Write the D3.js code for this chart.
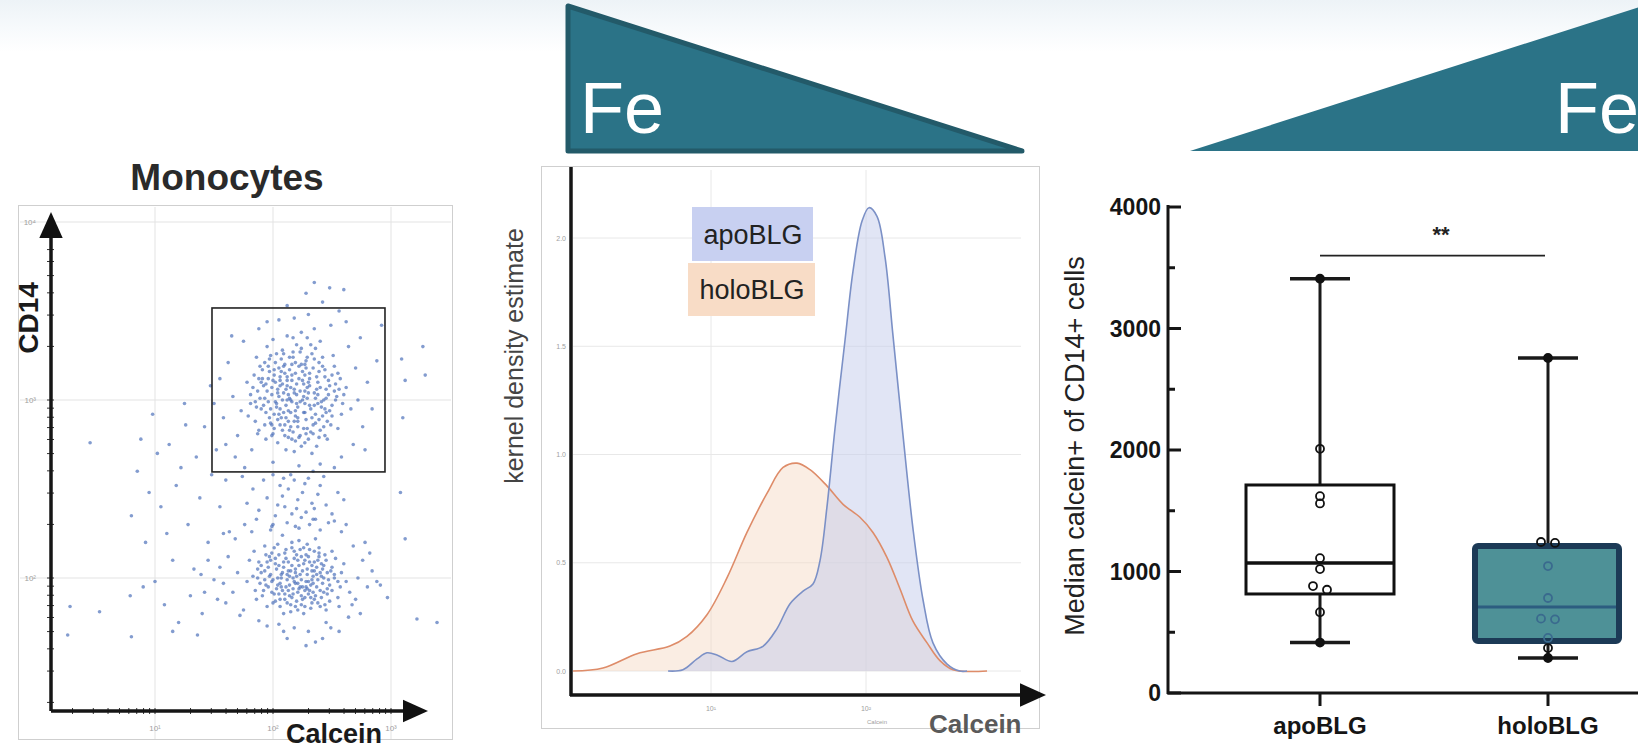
<!DOCTYPE html>
<html>
<head>
<meta charset="utf-8">
<script src="https://cdn.jsdelivr.net/npm/d3@7"></script>
<style>
  body { margin: 0; background: #fff; font-family: "Liberation Sans", Arial, sans-serif; }
</style>
</head>
<body>
<div id="fig"></div>
<script>
// ---------- data ----------
// flow cytometry events, [log10 Calcein, log10 CD14]
const upperCluster = [
  [2.14,3.01],[2.31,3.12],[1.98,2.87],[2.22,2.79],[2.05,3.18],[2.41,2.96],[1.87,3.05],[2.17,3.27],[2.29,2.84],[2.02,2.99],
  [2.48,3.08],[1.93,3.21],[2.11,2.72],[2.36,3.29],[2.08,3.09],[2.26,2.93],[1.79,2.91],[2.54,3.02],[2.19,3.15],[2.00,2.81],
  [2.33,2.70],[2.12,3.36],[1.90,2.95],[2.44,3.17],[2.23,3.05],[1.96,3.12],[2.39,2.89],[2.07,2.90],[2.28,3.22],[2.15,2.85],
  [1.84,3.14],[2.58,2.92],[2.20,2.98],[2.03,3.26],[2.46,2.78],[1.99,3.03],[2.35,3.04],[2.10,3.20],[2.27,2.76],[1.88,2.83],
  [2.52,3.19],[2.16,3.11],[2.04,2.76],[2.38,2.98],[1.95,3.30],[2.24,3.38],[2.13,2.94],[2.43,2.85],[1.81,2.98],[2.30,3.10],
  [2.09,3.04],[2.62,3.07],[2.21,2.88],[1.97,2.90],[2.34,3.18],[2.06,3.13],[2.50,2.97],[2.18,2.71],[1.92,3.08],[2.40,3.33],
  [2.25,3.00],[2.01,3.17],[2.32,2.82],[1.86,3.24],[2.57,3.12],[2.14,3.24],[2.45,3.01],[1.94,2.78],[2.29,3.07],[2.08,2.83],
  [2.66,2.95],[2.20,3.31],[1.78,3.10],[2.37,2.74],[2.11,2.97],[2.51,3.25],[1.99,2.86],[2.27,3.14],[2.04,3.06],[2.42,2.91],
  [1.73,2.94],[2.19,2.91],[2.35,3.40],[1.91,3.17],[2.55,2.84],[2.12,3.08],[2.23,2.80],[2.00,3.34],[2.47,3.11],[1.85,2.88],
  [2.31,2.97],[2.06,2.95],[2.60,3.03],[2.16,2.78],[1.89,3.01],[2.39,3.21],[2.26,3.09],[1.97,3.23],[2.44,2.80],[2.10,3.15],
  [2.13,3.03],[2.21,2.96],[2.02,3.10],[2.37,3.06],[1.94,2.93],[2.28,2.89],[2.09,3.19],[2.44,3.13],[2.17,2.82],[1.99,3.07],
  [2.33,3.26],[2.06,2.86],[2.25,3.16],[2.48,2.94],[1.91,3.12],[2.15,3.07],[2.40,2.83],[2.03,2.98],[2.29,3.01],[1.86,2.96],
  [2.19,3.21],[2.52,3.05],[2.11,2.90],[2.36,2.92],[1.97,3.16],[2.24,2.74],[2.08,3.28],[2.42,3.24],[2.16,2.99],[1.93,2.86],
  [2.31,3.15],[2.05,3.02],[2.46,2.88],[2.20,3.09],[1.89,3.19],[2.27,2.98],[2.12,3.13],[2.38,3.10],[2.01,2.92],[2.23,3.27],
  [2.55,3.15],[1.96,2.99],[2.34,2.86],[2.10,2.80],[2.29,3.35],[2.18,3.04],[2.43,3.00],[1.83,3.07],[2.07,3.23],[2.26,2.84],
  [2.50,2.91],[2.14,3.17],[1.95,3.05],[2.39,3.16],[2.22,3.12],[2.04,2.89],[2.32,2.95],[2.17,3.35],[2.59,2.98],[1.87,2.81],
  [2.12,3.00],[2.35,3.23],[1.98,3.25],[2.27,3.05],[2.45,3.06],[2.09,2.93],[2.21,2.85],[2.01,3.14],[2.30,2.78],[2.16,3.14],
  [1.92,2.97],[2.41,2.99],[2.24,3.20],[2.06,3.11],[2.53,3.09],[2.19,2.94],[1.81,3.03],[2.36,3.01],[2.13,2.88],[2.28,3.18],
  [2.18,3.06],[2.26,3.02],[2.04,3.04],[2.35,2.97],[1.98,2.95],[2.22,3.19],[2.10,2.86],[2.31,3.08],[2.15,2.93],[2.40,3.07],
  [1.93,3.01],[2.28,2.81],[2.07,3.16],[2.47,3.03],[2.12,3.11],[2.33,2.90],[2.01,2.84],[2.24,3.29],[2.19,2.77],[2.44,2.95],
  [1.90,3.10],[2.37,3.13],[2.05,2.92],[2.29,3.24],[2.14,2.83],[2.53,3.00],[1.96,3.19],[2.21,2.90],[2.39,2.79],[2.08,3.00],
  [2.25,3.11],[1.85,2.99],[2.32,3.31],[2.16,3.20],[2.49,2.86],[2.02,3.21],[2.27,2.93],[2.11,3.06],[2.42,3.19],[1.99,2.80],
  [2.20,3.03],[2.36,2.87],[2.06,3.08],[2.56,3.06],[2.13,2.79],[1.88,3.12],[2.30,3.04],[2.17,3.24],[2.45,2.93],[2.03,2.96],
  [2.23,2.99],[2.09,3.26],[2.38,3.03],[1.94,3.09],[2.27,3.20],[2.15,3.00],[2.50,3.14],[2.00,3.11],[2.34,2.81],[2.18,2.88],
  [1.66,3.02],[1.70,2.80],[2.72,3.00],[2.70,3.18],[1.62,3.21],[2.76,2.85],[1.58,2.90],[2.68,2.75],[2.18,3.46],[2.05,3.45],
  [2.30,3.48],[1.75,3.33],[2.64,3.30],[1.68,2.68],[2.80,3.10],[2.49,3.42],[1.95,3.44],[2.58,2.68],[1.55,3.12],[2.22,2.63],
  [2.00,2.65],[2.40,2.64],[1.82,2.72],[2.84,2.95],[1.50,2.98],[2.12,3.53],[2.42,3.55],[2.28,3.60],[2.56,3.50],[1.88,3.40],
  [2.74,3.35],[1.60,2.75],[2.78,2.72],[1.65,3.36],[2.62,3.44],[1.47,3.08],[2.88,3.22],[1.76,2.62],[2.52,2.62],[2.34,2.60]
];
const lowerCluster = [
  [2.17,2.00],[2.31,1.93],[2.02,2.08],[2.24,2.12],[1.94,1.96],[2.40,2.03],[2.10,1.88],[2.28,1.98],[1.87,2.05],[2.46,1.91],
  [2.06,1.97],[2.35,2.09],[2.19,1.84],[1.99,2.14],[2.52,2.00],[2.13,2.04],[2.38,1.86],[1.91,1.90],[2.26,2.17],[2.08,1.93],
  [2.43,2.07],[1.83,2.01],[2.21,1.92],[2.33,1.99],[2.04,2.19],[2.57,1.95],[2.15,1.81],[1.96,2.06],[2.29,2.05],[2.11,2.11],
  [2.48,1.87],[1.89,1.97],[2.37,1.95],[2.00,1.86],[2.23,2.02],[2.60,2.08],[2.07,2.02],[2.32,1.83],[1.80,2.10],[2.18,2.15],
  [2.44,2.13],[2.03,1.94],[2.27,1.89],[1.93,2.18],[2.55,1.89],[2.14,1.96],[2.39,2.17],[1.85,1.93],[2.22,2.07],[2.09,1.80],
  [2.49,2.04],[1.97,2.01],[2.34,1.92],[2.16,2.20],[2.62,1.98],[2.01,1.91],[2.30,2.12],[1.88,2.09],[2.20,1.87],[2.42,1.97],
  [2.05,2.13],[2.25,1.95],[1.78,1.98],[2.36,2.22],[2.12,1.99],[2.53,2.11],[1.95,1.84],[2.29,1.94],[2.08,2.24],[2.45,1.82],
  [2.19,2.05],[1.90,2.03],[2.33,2.04],[2.00,1.99],[2.58,2.03],[2.24,1.85],[2.11,2.16],[2.40,1.93],[1.84,2.15],[2.27,2.10],
  [2.14,1.90],[2.47,1.99],[1.98,2.10],[2.35,1.88],[2.06,1.88],[2.31,2.16],[2.21,1.97],[1.92,1.93],[2.50,2.15],[2.17,1.94],
  [2.41,2.01],[2.03,2.05],[2.26,1.80],[2.65,1.92],[1.86,1.88],[2.13,2.09],[2.38,2.10],[2.22,2.21],[1.96,1.95],[2.56,1.84],
  [2.20,2.01],[2.32,1.96],[2.09,2.06],[2.43,2.00],[2.15,1.85],[2.28,2.13],[1.99,1.98],[2.37,2.06],[2.24,1.90],[2.12,2.02],
  [2.46,1.94],[2.02,1.87],[2.34,2.01],[2.18,2.11],[1.93,2.04],[2.41,1.89],[2.25,2.04],[2.07,1.95],[2.30,1.91],[2.16,2.07],
  [2.50,2.06],[1.97,2.12],[2.27,1.93],[2.10,1.91],[2.39,2.14],[2.21,1.82],[2.04,2.00],[2.33,2.07],[2.19,1.97],[2.44,1.85],
  [2.19,2.03],[2.30,1.98],[2.07,2.00],[2.36,1.90],[2.13,1.93],[2.26,2.08],[1.98,2.02],[2.42,2.05],[2.23,1.95],[2.10,2.14],
  [2.33,1.86],[2.04,1.96],[2.48,1.96],[2.16,1.89],[2.29,2.02],[1.93,1.99],[2.39,2.12],[2.21,2.10],[2.06,1.84],[2.45,2.10],
  [2.14,2.01],[2.34,1.97],[1.95,2.09],[2.27,1.84],[2.52,2.02],[2.09,2.09],[2.24,1.99],[2.01,2.17],[2.37,2.02],[2.17,1.91],
  [2.43,1.92],[1.90,2.07],[2.31,2.09],[2.11,1.95],[2.55,1.98],[2.20,2.13],[2.05,1.91],[2.28,1.95],[2.40,1.84],[2.15,2.04],
  [2.35,2.04],[1.99,1.92],[2.23,2.16],[2.46,2.03],[2.08,2.03],[2.32,1.89],[2.18,1.98],[1.87,2.00],[2.41,2.08],[2.25,1.88],
  [2.12,1.86],[2.38,1.99],[2.02,2.11],[2.29,2.19],[2.50,1.93],[2.16,2.17],[2.22,1.94],[1.94,2.13],[2.35,2.15],[2.05,2.07],
  [1.70,2.03],[1.66,1.92],[2.72,2.00],[2.70,1.88],[1.62,2.12],[2.76,2.10],[1.58,1.97],[2.68,2.18],[2.18,1.72],[2.05,1.74],
  [2.30,1.70],[1.75,1.82],[2.64,1.78],[1.68,2.22],[2.80,1.95],[2.49,1.72],[1.95,1.73],[2.58,2.26],[1.55,2.06],[2.22,2.28],
  [2.00,2.30],[2.40,2.27],[1.82,2.26],[2.84,2.04],[1.50,1.99],[2.12,1.66],[2.42,1.66],[2.28,1.62],[2.56,1.70],[1.88,1.76],
  [2.74,1.80],[1.60,1.86],[2.78,2.20],[1.45,2.10],[2.62,2.30],[1.42,1.92],[2.88,1.98],[1.76,2.30],[2.52,2.32],[2.34,2.33],
  [1.72,1.79],[2.67,1.85],[1.63,2.26],[1.98,2.27],[2.09,1.70],[2.45,1.75],[1.53,1.88],[2.82,2.14],[1.39,2.02],[2.36,1.64]
];
const bridgeEvents = [
  [2.10,2.40],[2.25,2.48],[2.02,2.35],[2.33,2.42],[2.18,2.55],[1.95,2.45],[2.40,2.52],[2.12,2.31],[2.28,2.37],[2.06,2.52],
  [2.36,2.33],[1.88,2.38],[2.21,2.44],[2.45,2.41],[2.15,2.58],[1.99,2.29],[2.30,2.56],[2.08,2.46],[2.50,2.36],[1.83,2.50],
  [2.24,2.34],[2.38,2.47],[2.04,2.41],[2.16,2.36],[2.55,2.48],[1.92,2.55],[2.31,2.30],[2.13,2.50],[2.43,2.57],[1.78,2.42],
  [2.27,2.53],[2.00,2.58],[2.20,2.39],[2.47,2.31],[1.86,2.33],[2.35,2.39],[2.09,2.56],[2.60,2.44],[1.74,2.57],[2.19,2.29]
];
const sparseEvents = [
  [0.98,2.92],[1.12,2.75],[0.85,2.60],[1.25,2.98],[1.05,2.40],[1.35,2.68],[0.92,2.20],[1.18,2.52],[1.42,2.85],[1.00,1.98],
  [1.28,2.30],[0.88,2.78],[1.15,2.10],[1.38,2.45],[1.08,1.85],[1.22,2.62],[0.95,2.48],[1.45,2.20],[1.30,1.90],[1.02,2.70],
  [1.48,2.58],[1.10,2.25],[0.80,2.35],[1.33,2.05],[1.20,1.75],[1.40,1.80],[1.55,2.40],[1.60,2.55],[1.52,2.72],[1.26,2.86],
  [0.45,2.76],[0.28,1.84],[0.53,1.81],[0.26,1.68],[0.80,1.67],[0.79,1.90],[1.36,1.68],[1.15,1.70],[0.90,1.95],[1.58,2.25],
  [3.09,3.23],[3.27,3.30],[3.29,3.14],[3.12,3.11],[3.10,2.90],[3.08,2.48],[3.12,2.22],[2.97,1.89],[3.22,1.77],[3.39,1.75],
  [2.91,1.96],[2.92,3.42],[2.60,3.62],[2.35,3.66],[2.48,3.63]
];
const gateCalcein = [1.483, 2.949];   // log10
const gateCD14 = [2.596, 3.517];      // log10
const scatterXTicks = [10, 100, 1000];
const scatterYTicks = [100, 1000, 10000];

// kernel density estimate, x = log10 Calcein
const apoX = [0.723,0.819,0.910,0.974,1.045,1.135,1.232,1.335,1.426,1.510,1.594,1.658,1.703,1.748,1.800,1.865,
  1.916,1.974,2.019,2.071,2.123,2.174,2.239,2.303,2.368,2.432,2.523,2.606,2.652];
const apoDensity = [0,0.006,0.056,0.084,0.072,0.044,0.089,0.114,0.196,0.311,0.369,0.402,0.509,0.757,1.12,1.53,
  1.846,2.077,2.14,2.10,1.91,1.55,1.087,0.658,0.328,0.13,0.032,0,0];
const holoX = [0.110,0.303,0.523,0.735,0.845,0.974,1.103,1.232,1.361,1.465,1.555,1.639,1.748,1.852,1.961,2.045,
  2.135,2.219,2.303,2.394,2.477,2.561,2.781];
const holoDensity = [0,0.014,0.08,0.115,0.16,0.26,0.43,0.64,0.82,0.94,0.96,0.93,0.855,0.77,0.71,0.64,
  0.525,0.38,0.23,0.13,0.048,0.006,0];
const kdeYTicks = [0, 0.5, 1.0, 1.5, 2.0];
const kdeXTicks = [10, 100];

// box plot: median calcein+ of CD14+ cells
const groups = ["apoBLG", "holoBLG"];
const boxStats = {
  apoBLG:  { min: 415, q1: 815, median: 1070, q3: 1712, max: 3410 },
  holoBLG: { min: 288, q1: 428, median: 708,  q3: 1210, max: 2757 }
};
const apoPoints = [3410, 2010, 1620, 1560, 1110, 1020, 880, 850, 665, 415];
const holoPoints = [2757, 1243, 1235, 1045, 782, 612, 606, 453, 370, 288];
const boxYTicks = [0, 1000, 2000, 3000, 4000];
const sigLevel = 3600;

// ---------- page ----------
const W = 1638, H = 749;
const svg = d3.select("#fig").append("svg").attr("width", W).attr("height", H);
const defs = svg.append("defs");

const band = defs.append("linearGradient").attr("id", "band")
  .attr("x1", 0).attr("y1", 0).attr("x2", 0).attr("y2", 1);
band.append("stop").attr("offset", 0).attr("stop-color", "#edf3f7");
band.append("stop").attr("offset", 0.55).attr("stop-color", "#f7fafc");
band.append("stop").attr("offset", 1).attr("stop-color", "#ffffff");
svg.append("rect").attr("width", W).attr("height", 52).attr("fill", "url(#band)");

// iron gradient triangles
svg.append("path").attr("d", "M568,6 L568,151 L1022,151 Z")
  .attr("fill", "#2b7387").attr("stroke", "#235a69").attr("stroke-width", 5)
  .attr("stroke-linejoin", "round");
svg.append("path").attr("d", "M1190,151 L1652,3 L1652,151 Z").attr("fill", "#2b7387");
svg.append("text").attr("x", 580).attr("y", 133).attr("font-size", 72)
  .attr("fill", "#fff").text("Fe");
svg.append("text").attr("x", 1555).attr("y", 133).attr("font-size", 72)
  .attr("fill", "#fff").text("Fe");

// arrow helper
function arrowAxis(g, x1, y1, x2, y2, head) {
  const dx = x2 - x1, dy = y2 - y1, len = Math.hypot(dx, dy);
  const ux = dx / len, uy = dy / len;
  const bx = x2 - ux * head, by = y2 - uy * head;
  g.append("line").attr("x1", x1).attr("y1", y1).attr("x2", bx + ux * 2).attr("y2", by + uy * 2)
    .attr("stroke", "#151515").attr("stroke-width", 3.5);
  g.append("path")
    .attr("d", `M${x2},${y2} L${bx - uy * head * 0.45},${by + ux * head * 0.45} L${bx + uy * head * 0.45},${by - ux * head * 0.45} Z`)
    .attr("fill", "#111");
}

// ---------- panel 1: scatter ----------
const sc = svg.append("g");
sc.append("rect").attr("x", 18.5).attr("y", 205.5).attr("width", 434).attr("height", 534)
  .attr("fill", "#fff").attr("stroke", "#cfcfcf");
sc.append("text").attr("x", 227).attr("y", 190).attr("text-anchor", "middle")
  .attr("font-size", 37).attr("font-weight", "bold").attr("fill", "#2a2a2a").text("Monocytes");

const sx = d3.scaleLog().domain([10, 1000]).range([155, 391]);
const sy = d3.scaleLog().domain([100, 10000]).range([578, 222]);
const sup = { 1: "¹", 2: "²", 3: "³", 4: "⁴" };

sc.selectAll(".vg").data(scatterXTicks).enter().append("line")
  .attr("x1", d => sx(d)).attr("x2", d => sx(d)).attr("y1", 207).attr("y2", 739)
  .attr("stroke", "#e3e3e3");
sc.selectAll(".hg").data(scatterYTicks).enter().append("line")
  .attr("y1", d => sy(d)).attr("y2", d => sy(d)).attr("x1", 20).attr("x2", 451)
  .attr("stroke", "#e3e3e3");
sc.selectAll(".xt").data(scatterXTicks).enter().append("text")
  .attr("x", d => sx(d)).attr("y", 731).attr("text-anchor", "middle")
  .attr("font-size", 8).attr("fill", "#a0a0a0").text(d => "10" + sup[Math.round(Math.log10(d))]);
sc.selectAll(".yt").data(scatterYTicks).enter().append("text")
  .attr("x", 36).attr("y", d => sy(d) + 3).attr("text-anchor", "end")
  .attr("font-size", 8).attr("fill", "#a0a0a0").text(d => "10" + sup[Math.round(Math.log10(d))]);

const events = upperCluster.concat(lowerCluster, bridgeEvents, sparseEvents);
sc.selectAll(".ev").data(events).enter().append("circle")
  .attr("cx", d => sx(Math.pow(10, d[0]))).attr("cy", d => sy(Math.pow(10, d[1])))
  .attr("r", 1.8).attr("fill", "#4f72bb").attr("opacity", 0.7);

sc.append("rect")
  .attr("x", sx(Math.pow(10, gateCalcein[0]))).attr("y", sy(Math.pow(10, gateCD14[1])))
  .attr("width", sx(Math.pow(10, gateCalcein[1])) - sx(Math.pow(10, gateCalcein[0])))
  .attr("height", sy(Math.pow(10, gateCD14[0])) - sy(Math.pow(10, gateCD14[1])))
  .attr("fill", "none").attr("stroke", "#222").attr("stroke-width", 1.6);

// minor log ticks
const minorX = d3.scaleLog().domain([1.5, 2000]).ticks().filter(v => sx(v) > 56 && sx(v) < 400);
const minorY = d3.scaleLog().domain([18, 11000]).ticks().filter(v => sy(v) < 706 && sy(v) > 240);
sc.selectAll(".mx").data(minorX).enter().append("line")
  .attr("x1", d => sx(d)).attr("x2", d => sx(d)).attr("y1", 708).attr("y2", 714)
  .attr("stroke", "#333").attr("stroke-width", 1);
sc.selectAll(".my").data(minorY).enter().append("line")
  .attr("y1", d => sy(d)).attr("y2", d => sy(d)).attr("x1", 47).attr("x2", 54)
  .attr("stroke", "#333").attr("stroke-width", 1);

arrowAxis(sc, 51, 711, 428, 711, 25);
arrowAxis(sc, 51, 711, 51, 212, 26);
sc.append("text").attr("x", 286).attr("y", 743).attr("font-size", 27).attr("font-weight", "bold")
  .attr("fill", "#1a1a1a").text("Calcein");
sc.append("text").attr("transform", "translate(38,318) rotate(-90)").attr("text-anchor", "middle")
  .attr("font-size", 28).attr("font-weight", "bold").attr("fill", "#1a1a1a").text("CD14");

// ---------- panel 2: KDE ----------
const kd = svg.append("g");
kd.append("rect").attr("x", 541.5).attr("y", 166.5).attr("width", 498).attr("height", 562)
  .attr("fill", "#fff").attr("stroke", "#cfcfcf");
const kx = d3.scaleLog().domain([10, 100]).range([711, 866]);
const ky = d3.scaleLinear().domain([0, 2]).range([671, 238]);

kd.selectAll(".hg").data(kdeYTicks).enter().append("line")
  .attr("x1", 573).attr("x2", 1021).attr("y1", d => ky(d)).attr("y2", d => ky(d))
  .attr("stroke", "#e8e8e8");
kd.selectAll(".vg").data(kdeXTicks).enter().append("line")
  .attr("x1", d => kx(d)).attr("x2", d => kx(d)).attr("y1", 170).attr("y2", 693)
  .attr("stroke", "#e8e8e8");
kd.selectAll(".yt").data(kdeYTicks).enter().append("text")
  .attr("x", 566).attr("y", d => ky(d) + 2.5).attr("text-anchor", "end")
  .attr("font-size", 7).attr("fill", "#a0a0a0").text(d => d.toFixed(1));
kd.selectAll(".xt").data(kdeXTicks).enter().append("text")
  .attr("x", d => kx(d)).attr("y", 711).attr("text-anchor", "middle")
  .attr("font-size", 7).attr("fill", "#a0a0a0").text(d => "10" + sup[Math.round(Math.log10(d))]);
kd.append("text").attr("x", 877).attr("y", 724).attr("text-anchor", "middle")
  .attr("font-size", 6).attr("fill", "#a0a0a0").text("Calcein");

const holoSeries = holoX.map((x, i) => ({ x: x, y: holoDensity[i] }));
const apoSeries = apoX.map((x, i) => ({ x: x, y: apoDensity[i] }));
const area = d3.area().x(d => kx(Math.pow(10, d.x))).y0(ky(0)).y1(d => ky(d.y))
  .curve(d3.curveCatmullRom);
const line = d3.line().x(d => kx(Math.pow(10, d.x))).y(d => ky(d.y)).curve(d3.curveCatmullRom);

kd.append("path").attr("d", area(holoSeries)).attr("fill", "#f5d6c2").attr("opacity", 0.45);
kd.append("path").attr("d", area(apoSeries)).attr("fill", "#c3ccec").attr("opacity", 0.5);
kd.append("path").attr("d", line(holoSeries)).attr("fill", "none")
  .attr("stroke", "#de8c69").attr("stroke-width", 1.6);
kd.append("path").attr("d", line(apoSeries)).attr("fill", "none")
  .attr("stroke", "#7b90c6").attr("stroke-width", 1.6);

// legend
kd.append("rect").attr("x", 692).attr("y", 207).attr("width", 121).attr("height", 54).attr("fill", "#c8d0f1");
kd.append("rect").attr("x", 688).attr("y", 263).attr("width", 127).attr("height", 53).attr("fill", "#f8dcc6");
kd.append("text").attr("x", 753).attr("y", 244).attr("text-anchor", "middle")
  .attr("font-size", 27).attr("fill", "#222").text("apoBLG");
kd.append("text").attr("x", 752).attr("y", 299).attr("text-anchor", "middle")
  .attr("font-size", 27).attr("fill", "#222").text("holoBLG");

kd.append("line").attr("x1", 571).attr("x2", 571).attr("y1", 167).attr("y2", 696)
  .attr("stroke", "#151515").attr("stroke-width", 3.5);
arrowAxis(kd, 570, 695, 1046, 695, 26);
kd.append("text").attr("transform", "translate(523,356) rotate(-90)").attr("text-anchor", "middle")
  .attr("font-size", 25).attr("fill", "#444").text("kernel density estimate");
kd.append("text").attr("x", 929).attr("y", 733).attr("font-size", 26).attr("font-weight", "bold")
  .attr("fill", "#5a5a5a").text("Calcein");

// ---------- panel 3: box plot ----------
const bp = svg.append("g");
const by = d3.scaleLinear().domain([0, 4000]).range([693, 207]);
const bx = d3.scalePoint().domain(groups).range([1320, 1548]);
const boxW = 148;

// axes
bp.append("line").attr("x1", 1168).attr("x2", 1168).attr("y1", 694).attr("y2", 205)
  .attr("stroke", "#151515").attr("stroke-width", 3);
bp.append("line").attr("x1", 1167).attr("x2", 1640).attr("y1", 693).attr("y2", 693)
  .attr("stroke", "#151515").attr("stroke-width", 3);
bp.selectAll(".mj").data(boxYTicks).enter().append("line")
  .attr("x1", 1168).attr("x2", 1181).attr("y1", d => by(d)).attr("y2", d => by(d))
  .attr("stroke", "#151515").attr("stroke-width", 3);
bp.selectAll(".mn").data(d3.range(500, 4000, 1000)).enter().append("line")
  .attr("x1", 1168).attr("x2", 1175).attr("y1", d => by(d)).attr("y2", d => by(d))
  .attr("stroke", "#151515").attr("stroke-width", 3);
bp.selectAll(".yl").data(boxYTicks).enter().append("text")
  .attr("x", 1161).attr("y", d => by(d) + 8).attr("text-anchor", "end")
  .attr("font-size", 23).attr("font-weight", "bold").attr("fill", "#151515").text(d => d);
bp.selectAll(".xtk").data(groups).enter().append("line")
  .attr("x1", d => bx(d)).attr("x2", d => bx(d)).attr("y1", 693).attr("y2", 706)
  .attr("stroke", "#151515").attr("stroke-width", 3);
bp.selectAll(".xl").data(groups).enter().append("text")
  .attr("x", d => bx(d)).attr("y", 734).attr("text-anchor", "middle")
  .attr("font-size", 24).attr("font-weight", "bold").attr("fill", "#151515").text(d => d);
bp.append("text").attr("transform", "translate(1084,446) rotate(-90)").attr("text-anchor", "middle")
  .attr("font-size", 27).attr("fill", "#222").text("Median calcein+ of CD14+ cells");

// whiskers
groups.forEach(gname => {
  const s = boxStats[gname], cx = bx(gname);
  bp.append("line").attr("x1", cx).attr("x2", cx).attr("y1", by(s.max)).attr("y2", by(s.min))
    .attr("stroke", "#1a1a1a").attr("stroke-width", 3);
  [s.max, s.min].forEach(v => {
    bp.append("line").attr("x1", cx - 30).attr("x2", cx + 30).attr("y1", by(v)).attr("y2", by(v))
      .attr("stroke", "#1a1a1a").attr("stroke-width", 3.5);
  });
});

// boxes
const sa = boxStats.apoBLG, sh = boxStats.holoBLG;
bp.append("rect").attr("x", bx("apoBLG") - boxW / 2).attr("y", by(sa.q3))
  .attr("width", boxW).attr("height", by(sa.q1) - by(sa.q3))
  .attr("fill", "#fff").attr("stroke", "#111").attr("stroke-width", 3);
bp.append("line").attr("x1", bx("apoBLG") - boxW / 2).attr("x2", bx("apoBLG") + boxW / 2)
  .attr("y1", by(sa.median)).attr("y2", by(sa.median)).attr("stroke", "#111").attr("stroke-width", 3.5);
bp.append("rect").attr("x", bx("holoBLG") - boxW / 2 + 1).attr("y", by(sh.q3))
  .attr("width", boxW - 4).attr("height", by(sh.q1) - by(sh.q3)).attr("rx", 3)
  .attr("fill", "#4e9197").attr("stroke", "#1c3a56").attr("stroke-width", 6);
bp.append("line").attr("x1", bx("holoBLG") - boxW / 2 + 4).attr("x2", bx("holoBLG") + boxW / 2 - 6)
  .attr("y1", by(sh.median)).attr("y2", by(sh.median)).attr("stroke", "#2c5d80").attr("stroke-width", 3);

// individual donors, side by side where values nearly coincide
function spread(vals) {
  const sorted = vals.slice().sort((a, b) => b - a);
  const out = sorted.map(v => ({ v: v, dx: 0 }));
  for (let i = 1; i < out.length; i++) {
    if (out[i - 1].v - out[i].v < 45 && out[i - 1].dx === 0) { out[i - 1].dx = -7; out[i].dx = 7; }
  }
  return out;
}
[["apoBLG", apoPoints], ["holoBLG", holoPoints]].forEach(([gname, vals]) => {
  const s = boxStats[gname], cx = bx(gname);
  bp.selectAll(".pt-" + gname).data(spread(vals)).enter().append("circle")
    .attr("cx", d => cx + d.dx).attr("cy", d => by(d.v)).attr("r", 4)
    .attr("fill", d => (d.v === s.max || d.v === s.min) ? "#111" : "none")
    .attr("stroke", d => (gname === "holoBLG" && d.v < s.q3 && d.v > s.q1) ? "#3a6a8e" : "#111")
    .attr("stroke-width", 1.8);
});

// significance
bp.append("line").attr("x1", bx("apoBLG")).attr("x2", bx("holoBLG") - 3)
  .attr("y1", by(sigLevel)).attr("y2", by(sigLevel)).attr("stroke", "#222").attr("stroke-width", 1.6);
bp.append("text").attr("x", (bx("apoBLG") + bx("holoBLG")) / 2 + 7).attr("y", by(sigLevel) - 14)
  .attr("text-anchor", "middle").attr("font-size", 22).attr("font-weight", "bold")
  .attr("fill", "#222").text("**");
</script>
</body>
</html>
